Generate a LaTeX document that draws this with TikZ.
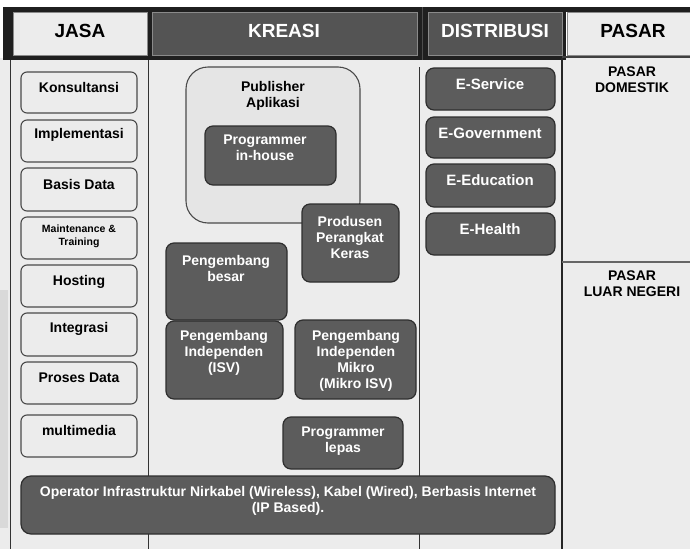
\documentclass[tikz,border=0pt]{standalone}
\usepackage{fontspec}
\setmainfont{Liberation Sans}
\definecolor{pagebg}{HTML}{ECECEC}
\definecolor{darkfill}{HTML}{5C5C5C}
\definecolor{darkedge}{HTML}{2E2E2E}
\definecolor{lightedge}{HTML}{4A4A4A}
\definecolor{headedge}{HTML}{8A8A8A}
\begin{document}
\begin{tikzpicture}[x=1pt,y=-1pt,
  lightbox/.style={draw=lightedge,line width=1.1pt,fill=pagebg,rounded corners=6pt},
  darkbox/.style={draw=darkedge,line width=1.2pt,fill=darkfill,rounded corners=8pt},
  darktxt/.style={inner sep=0pt,align=center,text=white,font=\fontsize{14}{16}\selectfont\bfseries},
  lighttxt/.style={inner sep=0pt,align=center,text=black,font=\fontsize{14}{16}\selectfont\bfseries},
  etxt/.style={inner sep=0pt,align=center,text=white,font=\fontsize{15}{17}\selectfont\bfseries},
  headtxt/.style={inner sep=0pt,align=center,font=\fontsize{19}{22}\selectfont\bfseries},
  colline/.style={draw=black!80,line width=0.8pt}]
\useasboundingbox (0,0) rectangle (690,549);

% page background
\fill[white] (0,0) rectangle (690,60);
\fill[pagebg] (0,58) rectangle (690,549);
\fill[black!15] (0,290) rectangle (8,528);

% header band
\fill[black!88] (3,7) rectangle (566,60);
\fill[black!88] (566,7) rectangle (690,12);
\draw[fill=pagebg,draw=headedge,line width=0.8pt] (13,12) rectangle (147,55);
\draw[fill=darkfill!105,draw=headedge,line width=0.8pt] (152,12) rectangle (417,55);
\draw[fill=darkfill!105,draw=headedge,line width=0.8pt] (428,12) rectangle (562,55);
\draw[fill=pagebg,draw=headedge,line width=0.8pt] (567,12) rectangle (690,55);
\draw[black!70,line width=0.6pt] (422,7) -- (422,60);
\draw[black!75,line width=1.2pt] (562,57) -- (690,57);
\node[headtxt] (hjasa) at (80,31) {JASA};
\node[headtxt,text=white] (hkreasi) at (284,31) {KREASI};
\node[headtxt,text=white] (hdistribusi) at (495,31) {DISTRIBUSI};
\node[headtxt] (hpasar) at (633,31) {PASAR};

% column separators
\draw[colline] (10,60) -- (10,549);
\draw[colline] (148,60) -- (148,549);
\draw[colline] (419,67) -- (419,549);
\draw[black!85,line width=1.8pt] (562,58) -- (562,549);
\draw[black!60,line width=1.6pt] (562,262) -- (690,262);

% JASA column
\draw[lightbox] (21,72) rectangle (137,113);
\node[lighttxt] (konsultansi) at (79,87) {Konsultansi};
\draw[lightbox] (21,120) rectangle (137,162);
\node[lighttxt] (implementasi) at (79,135) {Implementasi};
\draw[lightbox] (21,168) rectangle (137,211);
\node[lighttxt] (basisdata) at (79,184) {Basis Data};
\draw[lightbox] (21,217) rectangle (137,259);
\node[inner sep=0pt,align=center,font=\fontsize{10.5}{13}\selectfont\bfseries] (maintenance) at (79,236.5) {Maintenance \&\\Training};
\draw[lightbox] (21,265) rectangle (137,307);
\node[lighttxt] (hosting) at (79,282) {Hosting};
\draw[lightbox] (21,313) rectangle (137,356);
\node[lighttxt] (integrasi) at (79,329) {Integrasi};
\draw[lightbox] (21,362) rectangle (137,404);
\node[lighttxt] (prosesdata) at (79,378) {Proses Data};
\draw[lightbox] (21,415) rectangle (137,457);
\node[lighttxt] (multimedia) at (79,430) {multimedia};

% KREASI column
\draw[draw=lightedge,line width=1.1pt,fill=pagebg!97!black,rounded corners=22pt] (186,67) rectangle (360,223);
\node[lighttxt] (publisher) at (273,96) {Publisher\\Aplikasi};
\draw[darkbox] (205,126) rectangle (336,185);
\node[darktxt] (inhouse) at (265,148) {Programmer\\in-house};
\draw[darkbox] (302,204) rectangle (399,282);
\node[darktxt] (produsen) at (350,237) {Produsen\\Perangkat\\Keras};
\draw[darkbox] (166,243) rectangle (287,320);
\node[darktxt] (besar) at (226,268) {Pengembang\\besar};
\draw[darkbox] (166,321) rectangle (283,399);
\node[darktxt] (isv) at (224,353) {Pengembang\\Independen\\(ISV)};
\draw[darkbox] (295,320) rectangle (416,399);
\node[darktxt] (mikroisv) at (356,361) {Pengembang\\Independen\\Mikro\\(Mikro ISV)};
\draw[darkbox] (283,417) rectangle (403,469);
\node[darktxt] (lepas) at (343,441.5) {Programmer\\lepas};

% DISTRIBUSI column
\draw[darkbox] (426,68) rectangle (555,110);
\node[etxt] (eservice) at (490,84) {E-Service};
\draw[darkbox] (426,117) rectangle (555,158);
\node[etxt] (egov) at (490,133) {E-Government};
\draw[darkbox] (426,164) rectangle (555,207);
\node[etxt] (eedu) at (490,180) {E-Education};
\draw[darkbox] (426,213) rectangle (555,255);
\node[etxt] (ehealth) at (490,229) {E-Health};

% PASAR column
\node[lighttxt] (domestik) at (632,80) {PASAR\\DOMESTIK};
\node[lighttxt] (luarnegeri) at (632,283.5) {PASAR\\LUAR NEGERI};

% infrastructure operators
\draw[darkbox,rounded corners=10pt] (21,476) rectangle (555,534);
\node[darktxt] (operator) at (288,501) {Operator Infrastruktur Nirkabel (Wireless), Kabel (Wired), Berbasis Internet\\(IP Based).};
\end{tikzpicture}
\end{document}
